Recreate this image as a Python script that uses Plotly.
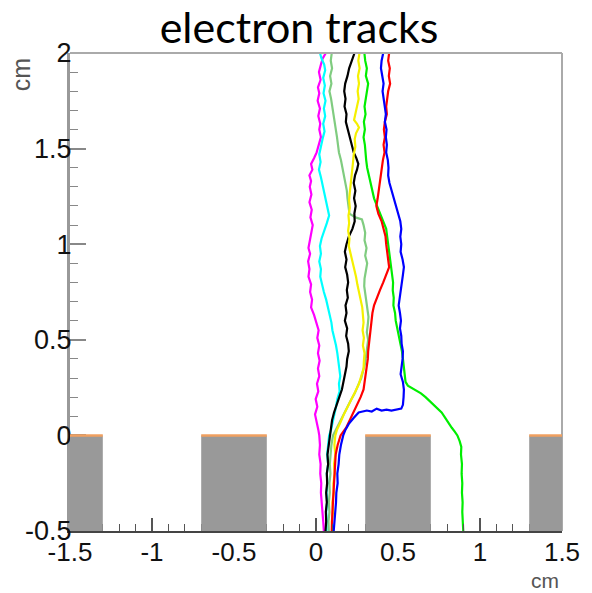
import plotly.graph_objects as go

# ---------------- data ----------------
MAGENTA_Y = [2.00, 1.97, 1.94, 1.90, 1.86, 1.82, 1.79, 1.75, 1.71, 1.67, 1.63, 1.60, 1.56, 1.52, 1.48, 1.45, 1.42, 1.39, 1.36, 1.33, 1.30, 1.26, 1.22, 1.18, 1.14, 1.10, 1.06, 1.02, 0.98, 0.95, 0.91, 0.87, 0.83, 0.79, 0.75, 0.71, 0.67, 0.63, 0.59, 0.55, 0.51, 0.47, 0.43, 0.39, 0.35, 0.31, 0.27, 0.23, 0.19, 0.15, 0.11, 0.07, 0.03, 0.00, -0.05, -0.10, -0.15, -0.20, -0.25, -0.30, -0.35, -0.40, -0.45, -0.50]
MAGENTA_X = [0.060, 0.040, 0.030, 0.018, 0.028, 0.012, 0.020, 0.010, 0.024, 0.014, 0.026, 0.020, 0.030, 0.016, 0.004, -0.012, -0.030, -0.022, -0.040, -0.030, -0.038, -0.028, -0.040, -0.026, -0.034, -0.020, -0.030, -0.036, -0.046, -0.036, -0.048, -0.040, -0.046, -0.030, -0.036, -0.024, -0.030, -0.012, 0.004, 0.016, 0.008, 0.020, 0.012, 0.022, 0.012, 0.020, 0.006, 0.014, -0.002, 0.008, -0.006, 0.006, 0.014, 0.020, 0.024, 0.020, 0.028, 0.026, 0.032, 0.030, 0.036, 0.038, 0.044, 0.048]

CYAN_Y = [2.00, 1.97, 1.94, 1.91, 1.87, 1.83, 1.79, 1.75, 1.71, 1.67, 1.63, 1.59, 1.55, 1.51, 1.47, 1.43, 1.39, 1.35, 1.31, 1.27, 1.23, 1.19, 1.15, 1.11, 1.07, 1.03, 0.99, 0.95, 0.91, 0.87, 0.83, 0.79, 0.75, 0.71, 0.67, 0.63, 0.59, 0.55, 0.51, 0.47, 0.43, 0.39, 0.35, 0.31, 0.27, 0.23, 0.19, 0.15, 0.11, 0.07, 0.03, 0.00, -0.05, -0.10, -0.15, -0.20, -0.25, -0.30, -0.35, -0.40, -0.45, -0.50]
CYAN_X = [0.024, 0.034, 0.050, 0.056, 0.044, 0.054, 0.046, 0.058, 0.048, 0.056, 0.044, 0.052, 0.040, 0.030, 0.020, 0.028, 0.018, 0.030, 0.040, 0.048, 0.062, 0.070, 0.080, 0.066, 0.048, 0.034, 0.024, 0.030, 0.020, 0.030, 0.026, 0.036, 0.048, 0.062, 0.074, 0.084, 0.094, 0.100, 0.112, 0.122, 0.130, 0.138, 0.142, 0.148, 0.140, 0.144, 0.130, 0.122, 0.112, 0.104, 0.092, 0.080, 0.072, 0.068, 0.074, 0.066, 0.070, 0.064, 0.068, 0.062, 0.066, 0.064]

PALEGREEN_Y = [2.00, 1.96, 1.92, 1.88, 1.84, 1.80, 1.76, 1.72, 1.68, 1.64, 1.60, 1.56, 1.52, 1.48, 1.44, 1.40, 1.36, 1.32, 1.28, 1.24, 1.20, 1.16, 1.14, 1.13, 1.10, 1.06, 1.02, 0.98, 0.94, 0.90, 0.86, 0.82, 0.78, 0.74, 0.70, 0.66, 0.62, 0.58, 0.54, 0.50, 0.46, 0.42, 0.38, 0.34, 0.30, 0.26, 0.22, 0.18, 0.14, 0.10, 0.06, 0.03, 0.00, -0.05, -0.10, -0.15, -0.20, -0.25, -0.30, -0.35, -0.40, -0.45, -0.50]
PALEGREEN_X = [0.096, 0.090, 0.098, 0.086, 0.094, 0.082, 0.092, 0.100, 0.108, 0.116, 0.122, 0.128, 0.134, 0.140, 0.152, 0.162, 0.170, 0.180, 0.188, 0.192, 0.198, 0.204, 0.240, 0.280, 0.290, 0.300, 0.296, 0.308, 0.300, 0.312, 0.304, 0.296, 0.294, 0.300, 0.306, 0.314, 0.320, 0.316, 0.310, 0.318, 0.310, 0.306, 0.300, 0.290, 0.276, 0.256, 0.236, 0.210, 0.186, 0.164, 0.140, 0.118, 0.104, 0.094, 0.090, 0.084, 0.088, 0.082, 0.084, 0.078, 0.082, 0.076, 0.078]

BLACK_Y = [2.00, 1.96, 1.92, 1.88, 1.84, 1.80, 1.76, 1.72, 1.68, 1.64, 1.60, 1.56, 1.52, 1.48, 1.45, 1.42, 1.39, 1.36, 1.32, 1.28, 1.24, 1.20, 1.16, 1.12, 1.08, 1.04, 1.00, 0.96, 0.92, 0.88, 0.84, 0.80, 0.76, 0.72, 0.68, 0.64, 0.60, 0.56, 0.52, 0.48, 0.44, 0.40, 0.36, 0.32, 0.28, 0.24, 0.20, 0.16, 0.12, 0.08, 0.04, 0.00, -0.05, -0.10, -0.15, -0.20, -0.25, -0.30, -0.35, -0.40, -0.45, -0.50]
BLACK_X = [0.235, 0.220, 0.202, 0.192, 0.178, 0.172, 0.180, 0.174, 0.186, 0.182, 0.194, 0.204, 0.214, 0.230, 0.246, 0.258, 0.250, 0.238, 0.230, 0.240, 0.232, 0.242, 0.234, 0.236, 0.222, 0.200, 0.186, 0.176, 0.186, 0.178, 0.190, 0.196, 0.188, 0.194, 0.180, 0.186, 0.176, 0.190, 0.184, 0.196, 0.200, 0.190, 0.186, 0.176, 0.170, 0.158, 0.142, 0.124, 0.110, 0.098, 0.092, 0.082, 0.076, 0.070, 0.074, 0.066, 0.068, 0.062, 0.066, 0.060, 0.062, 0.058]

YELLOW_Y = [2.00, 1.96, 1.92, 1.88, 1.84, 1.80, 1.76, 1.72, 1.68, 1.65, 1.63, 1.61, 1.58, 1.55, 1.51, 1.47, 1.43, 1.39, 1.35, 1.31, 1.27, 1.23, 1.19, 1.15, 1.11, 1.07, 1.03, 0.99, 0.95, 0.91, 0.87, 0.83, 0.79, 0.75, 0.71, 0.67, 0.63, 0.59, 0.55, 0.51, 0.47, 0.43, 0.39, 0.35, 0.31, 0.27, 0.23, 0.19, 0.15, 0.11, 0.07, 0.03, 0.00, -0.05, -0.10, -0.15, -0.20, -0.25, -0.30, -0.35, -0.40, -0.45, -0.50]
YELLOW_X = [0.265, 0.258, 0.266, 0.256, 0.262, 0.254, 0.260, 0.250, 0.244, 0.232, 0.250, 0.262, 0.244, 0.236, 0.240, 0.230, 0.226, 0.220, 0.216, 0.210, 0.206, 0.202, 0.206, 0.198, 0.202, 0.196, 0.204, 0.200, 0.212, 0.220, 0.232, 0.244, 0.252, 0.262, 0.274, 0.282, 0.286, 0.290, 0.284, 0.292, 0.286, 0.296, 0.292, 0.290, 0.276, 0.262, 0.240, 0.216, 0.194, 0.170, 0.150, 0.128, 0.118, 0.112, 0.118, 0.110, 0.114, 0.106, 0.108, 0.100, 0.104, 0.096, 0.098]

GREEN_Y = [2.00, 1.96, 1.92, 1.88, 1.84, 1.80, 1.76, 1.72, 1.68, 1.64, 1.60, 1.56, 1.52, 1.48, 1.44, 1.40, 1.36, 1.32, 1.28, 1.24, 1.20, 1.16, 1.12, 1.08, 1.04, 1.00, 0.96, 0.92, 0.88, 0.84, 0.80, 0.76, 0.72, 0.68, 0.64, 0.60, 0.56, 0.52, 0.48, 0.44, 0.40, 0.36, 0.32, 0.28, 0.26, 0.25, 0.24, 0.22, 0.20, 0.18, 0.16, 0.14, 0.12, 0.10, 0.08, 0.06, 0.04, 0.02, 0.00, -0.03, -0.06, -0.10, -0.15, -0.20, -0.25, -0.30, -0.35, -0.40, -0.45, -0.50]
GREEN_X = [0.295, 0.300, 0.310, 0.304, 0.318, 0.312, 0.306, 0.296, 0.302, 0.292, 0.298, 0.290, 0.298, 0.300, 0.306, 0.312, 0.322, 0.330, 0.340, 0.354, 0.372, 0.392, 0.410, 0.428, 0.434, 0.440, 0.444, 0.448, 0.456, 0.462, 0.470, 0.468, 0.474, 0.472, 0.482, 0.486, 0.496, 0.504, 0.512, 0.524, 0.530, 0.534, 0.538, 0.546, 0.560, 0.580, 0.606, 0.640, 0.668, 0.692, 0.716, 0.744, 0.766, 0.782, 0.796, 0.810, 0.828, 0.846, 0.862, 0.876, 0.886, 0.884, 0.890, 0.888, 0.892, 0.890, 0.894, 0.892, 0.896, 0.898]

BLUE_Y = [2.00, 1.96, 1.92, 1.88, 1.84, 1.80, 1.76, 1.72, 1.68, 1.64, 1.60, 1.56, 1.52, 1.48, 1.44, 1.40, 1.36, 1.32, 1.28, 1.24, 1.20, 1.16, 1.12, 1.08, 1.04, 1.00, 0.96, 0.92, 0.88, 0.84, 0.80, 0.76, 0.72, 0.68, 0.64, 0.60, 0.56, 0.52, 0.48, 0.44, 0.40, 0.36, 0.32, 0.28, 0.24, 0.20, 0.16, 0.14, 0.135, 0.13, 0.135, 0.13, 0.14, 0.125, 0.13, 0.125, 0.12, 0.09, 0.06, 0.03, 0.00, -0.05, -0.10, -0.15, -0.20, -0.25, -0.30, -0.35, -0.40, -0.45, -0.50]
BLUE_X = [0.410, 0.400, 0.396, 0.404, 0.412, 0.406, 0.414, 0.420, 0.426, 0.420, 0.430, 0.426, 0.432, 0.428, 0.438, 0.442, 0.440, 0.448, 0.462, 0.476, 0.490, 0.504, 0.514, 0.520, 0.514, 0.520, 0.516, 0.528, 0.536, 0.530, 0.524, 0.518, 0.510, 0.504, 0.512, 0.518, 0.512, 0.520, 0.522, 0.530, 0.528, 0.522, 0.516, 0.530, 0.536, 0.534, 0.530, 0.520, 0.490, 0.460, 0.430, 0.400, 0.370, 0.340, 0.310, 0.280, 0.260, 0.228, 0.200, 0.180, 0.166, 0.152, 0.142, 0.138, 0.130, 0.132, 0.124, 0.122, 0.116, 0.112, 0.108]

RED_Y = [2.00, 1.96, 1.92, 1.88, 1.84, 1.80, 1.76, 1.72, 1.68, 1.64, 1.60, 1.56, 1.52, 1.48, 1.44, 1.40, 1.36, 1.32, 1.28, 1.24, 1.20, 1.16, 1.12, 1.08, 1.04, 1.00, 0.96, 0.92, 0.88, 0.84, 0.80, 0.76, 0.72, 0.68, 0.64, 0.60, 0.56, 0.52, 0.48, 0.44, 0.40, 0.36, 0.32, 0.28, 0.24, 0.20, 0.16, 0.12, 0.08, 0.04, 0.00, -0.05, -0.10, -0.15, -0.20, -0.25, -0.30, -0.35, -0.40, -0.45, -0.50]
RED_X = [0.446, 0.440, 0.450, 0.444, 0.452, 0.440, 0.434, 0.428, 0.432, 0.420, 0.414, 0.420, 0.412, 0.418, 0.408, 0.402, 0.398, 0.390, 0.382, 0.376, 0.368, 0.380, 0.400, 0.414, 0.424, 0.428, 0.432, 0.440, 0.446, 0.430, 0.410, 0.390, 0.370, 0.354, 0.344, 0.338, 0.332, 0.326, 0.324, 0.318, 0.316, 0.310, 0.306, 0.300, 0.290, 0.272, 0.250, 0.226, 0.206, 0.184, 0.150, 0.132, 0.120, 0.116, 0.112, 0.110, 0.106, 0.102, 0.100, 0.098, 0.096]

# electrode strips (centres, half width, top/bottom in cm)
STRIP_CENTERS = [-1.5, -0.5, 0.5, 1.5]
STRIP_HALF_WIDTH = 0.2
STRIP_TOP = 0.0
STRIP_BOTTOM = -0.5

X_RANGE = [-1.5, 1.5]
Y_RANGE = [-0.5, 2.0]
X_TICKS = [-1.5, -1.0, -0.5, 0.0, 0.5, 1.0, 1.5]
X_TICK_TEXT = ["-1.5", "-1", "-0.5", "0", "0.5", "1", "1.5"]
Y_TICKS = [-0.5, 0.0, 0.5, 1.0, 1.5, 2.0]
Y_TICK_TEXT = ["-0.5", "0", "0.5", "1", "1.5", "2"]

TRACKS = [
    (MAGENTA_X, MAGENTA_Y, "#ff00ff"),
    (CYAN_X, CYAN_Y, "#00ffff"),
    (PALEGREEN_X, PALEGREEN_Y, "#80cc80"),
    (BLACK_X, BLACK_Y, "#000000"),
    (YELLOW_X, YELLOW_Y, "#f5f000"),
    (GREEN_X, GREEN_Y, "#00ee00"),
    (RED_X, RED_Y, "#ff0000"),
    (BLUE_X, BLUE_Y, "#0000ff"),
]

TICK_FONT = "Liberation Sans, Arial, sans-serif"

fig = go.Figure()
for xs, ys, col in TRACKS:
    fig.add_trace(go.Scatter(x=xs, y=ys, mode="lines",
                             line=dict(color=col, width=2.2),
                             showlegend=False, hoverinfo="skip"))

for c in STRIP_CENTERS:
    x0 = max(c - STRIP_HALF_WIDTH, X_RANGE[0])
    x1 = min(c + STRIP_HALF_WIDTH, X_RANGE[1])
    fig.add_shape(type="rect", xref="x", yref="y", x0=x0, x1=x1,
                  y0=STRIP_BOTTOM, y1=STRIP_TOP, fillcolor="#999999",
                  line=dict(width=0), layer="above")
    fig.add_shape(type="line", xref="x", yref="y", x0=x0, x1=x1,
                  y0=STRIP_TOP, y1=STRIP_TOP,
                  line=dict(color="#f0a060", width=2.5), layer="above")

fig.update_layout(
    width=592, height=593,
    margin=dict(l=70, r=24, t=53, b=62),
    paper_bgcolor="white", plot_bgcolor="white",
    title=dict(text="electron tracks", x=299 / 592, xref="container", xanchor="center",
               y=1 - 28 / 593, yref="container", yanchor="middle",
               font=dict(family="Lato", size=43, color="#000000")),
    font=dict(family=TICK_FONT, color="#111111"),
)

fig.update_xaxes(range=X_RANGE, tickvals=X_TICKS, ticktext=X_TICK_TEXT,
                 ticks="inside", ticklen=13, tickwidth=1.5, tickcolor="#555555",
                 minor=dict(dtick=0.1, ticks="inside", ticklen=7, tickcolor="#555555", tickwidth=1.2),
                 showgrid=False, zeroline=False, showline=True, linecolor="#444444",
                 linewidth=2, mirror=False, ticklabelstandoff=-3,
                 tickfont=dict(family=TICK_FONT, size=26, color="#111111"))
fig.update_yaxes(range=Y_RANGE, tickvals=Y_TICKS, ticktext=Y_TICK_TEXT,
                 ticks="inside", ticklen=16, tickwidth=1.5, tickcolor="#888888",
                 minor=dict(dtick=0.1, ticks="inside", ticklen=8, tickcolor="#888888", tickwidth=1.2),
                 showgrid=False, zeroline=False, showline=True, linecolor="#999999",
                 linewidth=3, mirror=False, ticklabelstandoff=-10,
                 tickfont=dict(family=TICK_FONT, size=27, color="#111111"))

# frame top and right
fig.add_shape(type="line", xref="paper", yref="paper", x0=0, x1=1, y0=1, y1=1,
              line=dict(color="#aaaaaa", width=2), layer="above")
fig.add_shape(type="line", xref="paper", yref="paper", x0=1, x1=1, y0=0, y1=1,
              line=dict(color="#aaaaaa", width=2), layer="below")

fig.add_annotation(text="cm", xref="paper", yref="paper", x=-0.1, y=0.955,
                   showarrow=False, textangle=-90,
                   font=dict(family=TICK_FONT, size=25, color="#555555"),
                   xanchor="center", yanchor="middle")
fig.add_annotation(text="cm", xref="paper", yref="paper", x=0.966, y=-0.103,
                   showarrow=False, borderpad=0,
                   font=dict(family=TICK_FONT, size=21, color="#555555"),
                   xanchor="center", yanchor="middle")

fig.write_html("out.html")
